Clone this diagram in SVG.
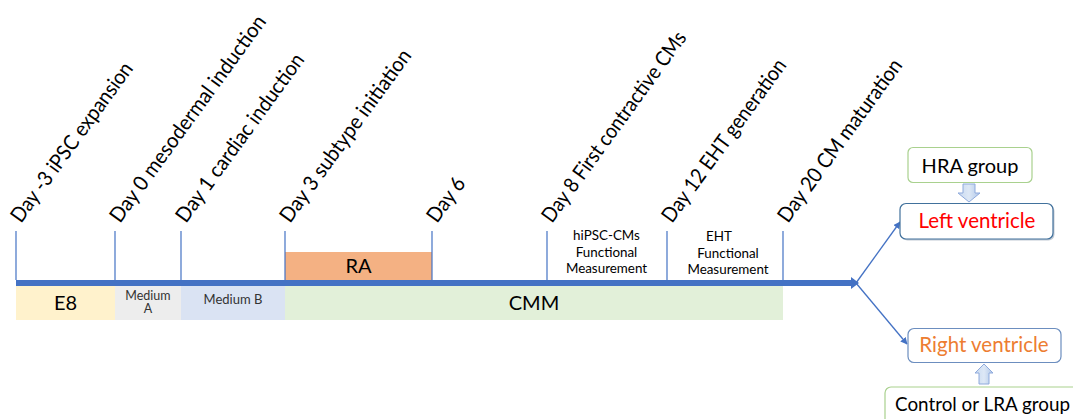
<svg xmlns="http://www.w3.org/2000/svg" width="1073" height="419" viewBox="0 0 1073 419">
<defs>
<style>
.lbl{font-family:Lato,"Open Sans","Liberation Sans",sans-serif;font-size:21px;fill:#000}
.t{font-family:Lato,"Open Sans","Liberation Sans",sans-serif;fill:#000}
.sm{fill:#333}
.red{fill:#FF0000}
.org{fill:#ED7D31}
.tick{stroke:#4472C4;stroke-width:1.2}
.conn{stroke:#4472C4;stroke-width:1.3;fill:none}
.blk{fill:url(#bg);stroke:#8FAADC;stroke-width:1}
</style>
<linearGradient id="bg" x1="0" y1="0" x2="1" y2="0">
<stop offset="0" stop-color="#C9DAF0"/><stop offset="0.5" stop-color="#DDE8F6"/><stop offset="1" stop-color="#AFC6E8"/>
</linearGradient>
<marker id="ah" viewBox="0 0 10 10" refX="9" refY="5" markerWidth="7" markerHeight="7" orient="auto" markerUnits="userSpaceOnUse">
<path d="M0,0 L10,5 L0,10 Z" fill="#4472C4"/>
</marker>
</defs>
<rect width="1073" height="419" fill="#fff"/>

<g id="bands">
<rect x="16" y="286" width="99" height="34" fill="#FFF2CC"/>
<rect x="115" y="286" width="66" height="34" fill="#EDEDED"/>
<rect x="181" y="286" width="104" height="34" fill="#DAE3F3"/>
<rect x="285" y="286" width="498" height="34" fill="#E2F0D9"/>
<text class="t" x="65.5" y="310" font-size="20" text-anchor="middle">E8</text>
<text class="t sm" x="148" y="300" font-size="12.5" text-anchor="middle">Medium</text>
<text class="t sm" x="148" y="313" font-size="12.5" text-anchor="middle">A</text>
<text class="t sm" x="233" y="304" font-size="13" text-anchor="middle">Medium B</text>
<text class="t" x="534" y="310" font-size="20" text-anchor="middle">CMM</text>
</g>

<g id="ra">
<rect x="285" y="252" width="147" height="28" fill="#F4B183"/>
<text class="t" x="358.5" y="273" font-size="20" text-anchor="middle">RA</text>
</g>

<g id="ticks">
<line class="tick" x1="16" y1="231" x2="16" y2="280"/>
<line class="tick" x1="115" y1="231" x2="115" y2="280"/>
<line class="tick" x1="181" y1="231" x2="181" y2="280"/>
<line class="tick" x1="285" y1="231" x2="285" y2="280"/>
<line class="tick" x1="432" y1="231" x2="432" y2="280"/>
<line class="tick" x1="547" y1="231" x2="547" y2="280"/>
<line class="tick" x1="667" y1="231" x2="667" y2="280"/>
<line class="tick" x1="783" y1="231" x2="783" y2="280"/>
</g>

<g id="day-labels">
<text class="lbl" transform="translate(21,224) rotate(-54)" textLength="192" lengthAdjust="spacingAndGlyphs">Day -3 iPSC expansion</text>
<text class="lbl" transform="translate(120,224) rotate(-54)" textLength="250" lengthAdjust="spacingAndGlyphs">Day 0 mesodermal induction</text>
<text class="lbl" transform="translate(186,224) rotate(-54)" textLength="203" lengthAdjust="spacingAndGlyphs">Day 1 cardiac induction</text>
<text class="lbl" transform="translate(290,224) rotate(-54)" textLength="208" lengthAdjust="spacingAndGlyphs">Day 3 subtype initiation</text>
<text class="lbl" transform="translate(437,224) rotate(-54)" textLength="50" lengthAdjust="spacingAndGlyphs">Day 6</text>
<text class="lbl" transform="translate(552,224) rotate(-54)" textLength="230" lengthAdjust="spacingAndGlyphs">Day 8 First contractive CMs</text>
<text class="lbl" transform="translate(672,224) rotate(-54)" textLength="196" lengthAdjust="spacingAndGlyphs">Day 12 EHT generation</text>
<text class="lbl" transform="translate(788,224) rotate(-54)" textLength="196" lengthAdjust="spacingAndGlyphs">Day 20 CM maturation</text>
</g>

<g id="measure-labels" font-size="13.4">
<text class="t" x="606.5" y="240" text-anchor="middle">hiPSC-CMs</text>
<text class="t" x="606.5" y="256.5" text-anchor="middle">Functional</text>
<text class="t" x="606.5" y="273" text-anchor="middle">Measurement</text>
<text class="t" x="719" y="241" text-anchor="middle">EHT</text>
<text class="t" x="728" y="257.5" text-anchor="middle">Functional</text>
<text class="t" x="728" y="274" text-anchor="middle">Measurement</text>
</g>

<g id="connectors">
<path d="M16,280 H851 V277 L859,283 L851,289 V286 H16 Z" fill="#4472C4"/>
<line class="conn" x1="856" y1="283" x2="900" y2="222" marker-end="url(#ah)"/>
<line class="conn" x1="856" y1="283" x2="907" y2="344" marker-end="url(#ah)"/>
<polygon class="blk" points="963,184 975,184 975,193 980,193 969,202 958,193 963,193"/>
<polygon class="blk" points="984,364 993,373 989,373 989,384 979,384 979,373 975,373"/>
</g>

<g id="hra">
<rect x="908" y="147.5" width="124" height="35" rx="5" fill="#fff" stroke="#A9D18E" stroke-width="1.2"/>
<text class="t" x="970" y="172.5" font-size="20" text-anchor="middle">HRA group</text>
</g>

<g id="left-ventricle">
<rect x="901.5" y="205" width="153" height="35.5" rx="6" fill="#9AA6B8" opacity="0.6"/>
<rect x="900" y="203.5" width="153" height="35.5" rx="6" fill="#fff" stroke="#41719C" stroke-width="1.2"/>
<text class="t red" x="977" y="227.5" font-size="20.5" text-anchor="middle">Left ventricle</text>
</g>

<g id="right-ventricle">
<rect x="908" y="328.5" width="153" height="34" rx="6" fill="#fff" stroke="#6C8EBF" stroke-width="1.2"/>
<text class="t org" x="984" y="351.5" font-size="20.5" text-anchor="middle">Right ventricle</text>
</g>

<g id="control-lra">
<rect x="885" y="387" width="200" height="40" rx="6" fill="#fff" stroke="#A9D18E" stroke-width="1.2"/>
<text class="t" x="895" y="410.5" font-size="20" textLength="175" lengthAdjust="spacingAndGlyphs">Control or LRA group</text>
</g>
</svg>
